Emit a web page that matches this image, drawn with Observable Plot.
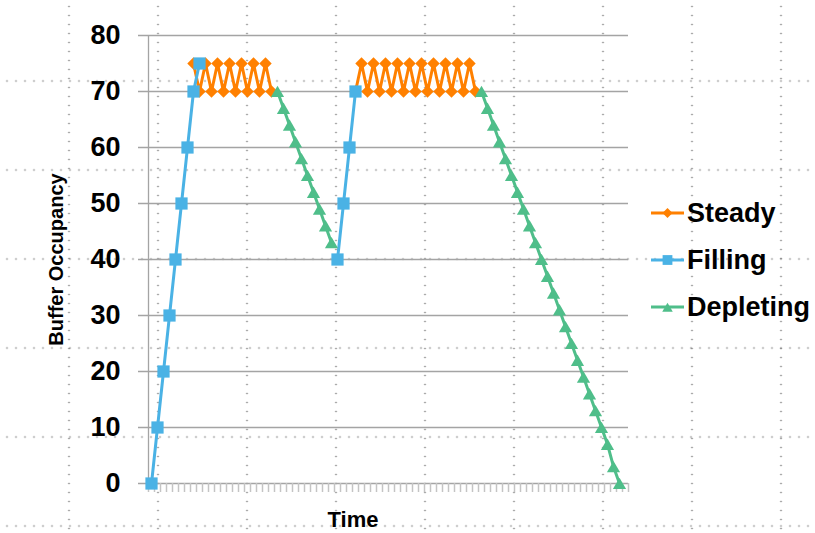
<!DOCTYPE html>
<html>
<head>
<meta charset="utf-8">
<script src="https://cdn.jsdelivr.net/npm/d3@7"></script>
<script src="https://cdn.jsdelivr.net/npm/@observablehq/plot@0.6"></script>
<style>
  body { margin: 0; background: #fff; }
  #wrap { position: relative; width: 815px; height: 533px; overflow: hidden;
          font-family: 'Liberation Sans', Arial, Helvetica, sans-serif; }
  #dots { position: absolute; left: 0; top: 0; width: 815px; height: 533px;
          background-image:
            radial-gradient(circle, rgba(90,90,90,0.85) 0.6px, rgba(90,90,90,0) 1.1px),
            radial-gradient(circle, rgba(90,90,90,0.85) 0.6px, rgba(90,90,90,0) 1.1px);
          background-size: 9px 89px, 89px 9px;
          background-position: 11.5px 36.5px, 24.5px 2px;
          background-repeat: repeat, repeat; }
  #chart { position: absolute; left: 0; top: 0; }
  .legend-row { position: absolute; left: 650px; height: 32px; display: flex; align-items: center;
                font-size: 27px; font-weight: bold; color: #000; white-space: nowrap; }
  .legend-row svg { display: block; margin-right: 1px; }
</style>
</head>
<body>
<div id="wrap">
  <div id="dots"></div>
  <div id="chart"></div>
</div>
<script>
// ---- data ----
const yTicks = [0, 10, 20, 30, 40, 50, 60, 70, 80];
const categoryCount = 80;

const seriesNames   = ["Steady", "Filling", "Depleting"];
const seriesColors  = ["#FF8000", "#4AB2E5", "#4FBE8A"];
const seriesSymbols = ["diamond2", "square", "triangle"];

const steadySegments = [
  {start: 7,  values: [75, 70, 75, 70, 75, 70, 75, 70, 75, 70, 75, 70, 75, 70]},
  {start: 34, values: [70, 75, 70, 75, 70, 75, 70, 75, 70, 75, 70, 75, 70, 75, 70, 75, 70, 75, 70, 75, 70]}
];
const fillingSegments = [
  {start: 0,  values: [0, 10, 20, 30, 40, 50, 60, 70, 75]},
  {start: 31, values: [40, 50, 60, 70]}
];
const depletingSegments = [
  {start: 21, values: [70, 67, 64, 61, 58, 55, 52, 49, 46, 43]},
  {start: 55, values: [70, 67, 64, 61, 58, 55, 52, 49, 46, 43, 40, 37, 34, 31, 28, 25, 22, 19, 16, 13, 10, 7, 3, 0]}
];

// ---- build table ----
const allSegments = [steadySegments, fillingSegments, depletingSegments];
const rowsBySeries = allSegments.map((segs, s) =>
  segs.flatMap((seg, k) => seg.values.map((v, i) => ({
    series: seriesNames[s], seg: seriesNames[s] + k, t: seg.start + i, v
  })))
);
const timeBoundaries = d3.range(categoryCount + 1).map(i => i - 0.5);

const gridColor = "#a4a4a4";
const symbolR = {diamond2: 5.6, square: 6.9, triangle: 4.9};
const symbolDy = {diamond2: 0, square: 0, triangle: 1.8};

const seriesMarks = rowsBySeries.flatMap((rows, s) => [
  Plot.line(rows, {x: "t", y: "v", z: "seg", stroke: seriesColors[s], strokeWidth: 3, strokeLinejoin: "round"}),
  Plot.dot(rows, {x: "t", y: "v", symbol: () => seriesSymbols[s], r: symbolR[seriesSymbols[s]],
                  dy: symbolDy[seriesSymbols[s]], fill: seriesColors[s], stroke: "none"})
]);

const chart = Plot.plot({
  width: 815,
  height: 533,
  marginLeft: 148,
  marginRight: 187,
  marginTop: 35,
  marginBottom: 50,
  style: {background: "transparent", fontFamily: "'Liberation Sans', Arial, Helvetica, sans-serif", overflow: "visible"},
  x: {domain: [-0.5, categoryCount - 0.5], axis: null},
  y: {domain: [0, 80], axis: null},
  symbol: {type: "identity"},
  marks: [
    Plot.ruleY(yTicks, {stroke: gridColor, strokeWidth: 1.3, insetLeft: -10}),
    Plot.ruleX([-0.5], {stroke: gridColor, strokeWidth: 1.3}),
    Plot.ruleX(timeBoundaries, {y1: 0, y2: 0, insetBottom: -9, stroke: "#c4c4c4", strokeWidth: 1.5}),
    Plot.text(yTicks, {y: d => d, text: d => String(d), frameAnchor: "left", textAnchor: "end",
                       lineAnchor: "middle", dx: -28, fontSize: 27, fontWeight: "bold", fill: "#000"}),
    Plot.text(["Buffer Occupancy"], {frameAnchor: "left", text: d => d, rotate: -90, dx: -92,
                       textAnchor: "middle", lineAnchor: "middle",
                       fontSize: 20, fontWeight: "bold", fill: "#000"}),
    Plot.text(["Time"], {frameAnchor: "bottom", text: d => d, dx: -35.5, dy: 36,
                       textAnchor: "middle", lineAnchor: "middle",
                       fontSize: 22, fontWeight: "bold", fill: "#000"}),
    ...seriesMarks
  ]
});
document.getElementById("chart").appendChild(chart);

// ---- legend ----
const legendRowY = [213, 260, 307];
const symbolTypes = {diamond2: d3.symbolDiamond2, square: d3.symbolSquare, triangle: d3.symbolTriangle};
const wrap = document.getElementById("wrap");
seriesNames.forEach((name, s) => {
  const row = document.createElement("div");
  row.className = "legend-row";
  row.style.top = (legendRowY[s] - 16) + "px";
  const sym = seriesSymbols[s];
  const size = Math.PI * Math.pow(symbolR[sym] * 0.8, 2);
  const path = d3.symbol(symbolTypes[sym], size)();
  row.innerHTML =
    `<svg width="36" height="32" viewBox="0 0 36 32">` +
    `<line x1="1" x2="34" y1="16" y2="16" stroke="${seriesColors[s]}" stroke-width="3"/>` +
    `<path d="${path}" transform="translate(17.5,${16 + symbolDy[sym]})" fill="${seriesColors[s]}"/>` +
    `</svg><span>${name}</span>`;
  wrap.appendChild(row);
});
</script>
</body>
</html>
